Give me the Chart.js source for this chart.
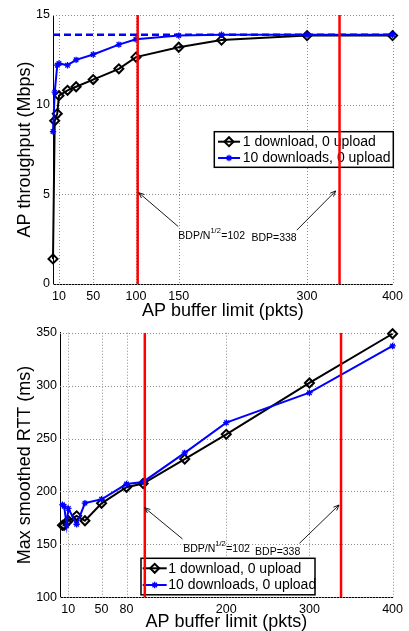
<!DOCTYPE html>
<html>
<head>
<meta charset="utf-8">
<script src="https://cdn.jsdelivr.net/npm/chart.js@4.4.1/dist/chart.umd.min.js"></script>
<style>
  body { margin: 0; background: #fff; }
  canvas { position: absolute; left: 0; }
  #tputChart { top: 0; }
  #rttChart { top: 320px; }
</style>
</head>
<body>
<canvas id="tputChart" width="409" height="320"></canvas>
<canvas id="rttChart" width="409" height="311"></canvas>
<script>
// --- data ---
const bufferSizes = [3, 5, 8, 10, 20, 30, 50, 80, 100, 150, 200, 300, 400];
const seriesLabels = ['1 download, 0 upload', '10 downloads, 0 upload'];

const tputOneDown = [1.4, 9.1, 9.5, 10.5, 10.8, 11.0, 11.4, 12.0, 12.65, 13.2, 13.6, 13.85, 13.85];
const tputTenDown = [8.5, 10.7, 12.2, 12.3, 12.2, 12.5, 12.8, 13.35, 13.65, 13.85, 13.9, 13.9, 13.9];
const tputCeiling = 13.9;

const rttOneDown = [168, 168, 171, 172.3, 177, 172.3, 188.8, 204, 207.5, 230.6, 254, 302.5, 349];
const rttTenDown = [187.5, 186, 168, 184, 169, 189, 192.6, 207, 209, 236.5, 265, 293.3, 337.5];

const bdpSqrtN = 102;
const bdp = 338;

const tputXTicks = [10, 50, 100, 150, 300, 400];
const tputYTicks = [0, 5, 10, 15];
const rttXTicks = [10, 50, 80, 200, 300, 400];
const rttYTicks = [100, 150, 200, 250, 300, 350];

Chart.defaults.font.family = '"Liberation Sans", Arial, Helvetica, sans-serif';
Chart.defaults.color = '#000';

const toPoints = (ys) => bufferSizes.map((x, i) => ({ x: x, y: ys[i] }));

// dotted matlab-style grid at the tick positions
const dottedGrid = {
  id: 'dottedGrid',
  beforeDatasetsDraw(chart) {
    const ctx = chart.ctx, a = chart.chartArea;
    ctx.save();
    ctx.strokeStyle = '#8c8c8c';
    ctx.lineWidth = 1;
    ctx.setLineDash([1, 2]);
    chart.scales.x.ticks.forEach(t => {
      const px = Math.round(chart.scales.x.getPixelForValue(t.value)) + 0.5;
      ctx.beginPath(); ctx.moveTo(px, a.top); ctx.lineTo(px, a.bottom); ctx.stroke();
    });
    chart.scales.y.ticks.forEach(t => {
      const py = Math.round(chart.scales.y.getPixelForValue(t.value)) + 0.5;
      ctx.beginPath(); ctx.moveTo(a.left, py); ctx.lineTo(a.right, py); ctx.stroke();
    });
    ctx.restore();
  }
};

// legend box drawn under the data, like the matlab one
const legendBox = {
  id: 'legendBox',
  beforeDatasetsDraw(chart, args, o) {
    const ctx = chart.ctx;
    ctx.save();
    ctx.fillStyle = '#fff';
    ctx.fillRect(o.x, o.y, o.w, o.h);
    ctx.strokeStyle = '#000';
    ctx.lineWidth = 1.5;
    ctx.strokeRect(o.x, o.y, o.w, o.h);
    ctx.font = '14px "Liberation Sans", Arial, sans-serif';
    ctx.textBaseline = 'middle';
    seriesLabels.forEach((name, i) => {
      const ds = chart.data.datasets.find(d => d.label === name);
      const cy = o.y + o.rowTop + i * o.rowGap;
      const x0 = o.x + o.lineFrom, x1 = o.x + o.lineTo, mx = (x0 + x1) / 2;
      ctx.strokeStyle = ds.borderColor;
      ctx.lineWidth = ds.borderWidth;
      ctx.beginPath(); ctx.moveTo(x0, cy); ctx.lineTo(x1, cy); ctx.stroke();
      ctx.lineWidth = ds.pointBorderWidth;
      ctx.beginPath();
      const r = ds.pointRadius;
      if (ds.pointStyle === 'rectRot') {
        ctx.moveTo(mx - r, cy); ctx.lineTo(mx, cy - r); ctx.lineTo(mx + r, cy); ctx.lineTo(mx, cy + r); ctx.closePath();
      } else {
        ctx.moveTo(mx - r, cy); ctx.lineTo(mx + r, cy);
        ctx.moveTo(mx, cy - r); ctx.lineTo(mx, cy + r);
        ctx.moveTo(mx - r * 0.7, cy - r * 0.7); ctx.lineTo(mx + r * 0.7, cy + r * 0.7);
        ctx.moveTo(mx - r * 0.7, cy + r * 0.7); ctx.lineTo(mx + r * 0.7, cy - r * 0.7);
      }
      ctx.stroke();
      ctx.fillStyle = '#000';
      ctx.fillText(ds.label, o.x + o.textX, cy + 0.5);
    });
    ctx.restore();
  }
};

// arrows + BDP labels, placed in data units
const bdpNotes = {
  id: 'bdpNotes',
  afterDatasetsDraw(chart, args, o) {
    const ctx = chart.ctx;
    const xs = chart.scales.x, ys = chart.scales.y;
    ctx.save();
    ctx.strokeStyle = '#000';
    ctx.lineWidth = 0.9;
    o.arrows.forEach(a => {
      const tx = xs.getPixelForValue(a.tail[0]), ty = ys.getPixelForValue(a.tail[1]);
      const hx = xs.getPixelForValue(a.head[0]), hy = ys.getPixelForValue(a.head[1]);
      const ang = Math.atan2(hy - ty, hx - tx);
      ctx.beginPath();
      ctx.moveTo(tx, ty); ctx.lineTo(hx, hy);
      ctx.moveTo(hx - 6 * Math.cos(ang - 0.4), hy - 6 * Math.sin(ang - 0.4));
      ctx.lineTo(hx, hy);
      ctx.lineTo(hx - 6 * Math.cos(ang + 0.4), hy - 6 * Math.sin(ang + 0.4));
      ctx.stroke();
    });
    ctx.fillStyle = '#000';
    ctx.textBaseline = 'alphabetic';
    o.labels.forEach(l => {
      let px = xs.getPixelForValue(l.x);
      const py = ys.getPixelForValue(l.y);
      l.parts.forEach(([txt, sup]) => {
        ctx.font = (sup ? '7.5px' : '10.5px') + ' "Liberation Sans", Arial, sans-serif';
        ctx.fillText(txt, px, sup ? py - 6 : py);
        px += ctx.measureText(txt).width + (sup ? 0.5 : 0);
      });
    });
    ctx.restore();
  }
};

function makeChart(id, c) {
  // first dataset is painted last (on top): red markers, dashed ceiling, blue, black
  const datasets = [
    { label: 'bdp-sqrt', data: [{ x: bdpSqrtN, y: c.yMin }, { x: bdpSqrtN, y: c.yMax }],
      borderColor: '#ff0000', borderWidth: 2.5, pointRadius: 0 },
    { label: 'bdp', data: [{ x: bdp, y: c.yMin }, { x: bdp, y: c.yMax }],
      borderColor: '#ff0000', borderWidth: 2.5, pointRadius: 0 }
  ];
  if (c.ceiling !== undefined) {
    datasets.push({ label: 'ceiling', data: [{ x: c.xMin, y: c.ceiling }, { x: 400, y: c.ceiling }],
      borderColor: '#0000ff', borderWidth: 2.5, borderDash: [7, 4], pointRadius: 0 });
  }
  datasets.push(
    { label: seriesLabels[1], data: toPoints(c.ten),
      borderColor: '#0000ff', borderWidth: 2, pointStyle: 'star', pointRadius: 3.2,
      pointBorderWidth: 1.3, pointBorderColor: '#0000ff', backgroundColor: '#0000ff', clip: false },
    { label: seriesLabels[0], data: toPoints(c.one),
      borderColor: '#000', borderWidth: 2, pointStyle: 'rectRot', pointRadius: 4.5,
      pointBorderWidth: 2, pointBorderColor: '#000', backgroundColor: 'rgba(255,255,255,0)', clip: false }
  );

  return new Chart(document.getElementById(id), {
    type: 'line',
    data: { datasets: datasets },
    options: {
      responsive: false,
      animation: false,
      devicePixelRatio: 1,
      events: [],
      layout: { padding: c.pad },
      plugins: {
        legend: { display: false },
        tooltip: { enabled: false },
        legendBox: c.box,
        bdpNotes: c.notes
      },
      scales: {
        x: {
          type: 'linear', min: c.xMin, max: 400,
          afterBuildTicks: ax => { ax.ticks = c.xTicks.map(v => ({ value: v })); },
          afterFit: ax => { ax.height = c.xAxisH; },
          grid: { display: false, drawTicks: false },
          border: { display: true, color: '#000', width: 1 },
          ticks: { font: { size: 12.5, lineHeight: 1 }, padding: 6, maxRotation: 0, autoSkip: false },
          title: { display: true, text: 'AP buffer limit (pkts)', font: { size: 18, lineHeight: 1 }, padding: { top: 0, bottom: 0 } }
        },
        y: {
          min: c.yMin, max: c.yMax,
          afterBuildTicks: ax => { ax.ticks = c.yTicks.map(v => ({ value: v })); },
          afterFit: ax => { ax.width = c.yAxisW; },
          grid: { display: false, drawTicks: false },
          border: { display: true, color: '#000', width: 1 },
          ticks: { font: { size: 12.5, lineHeight: 1 }, padding: 3 },
          title: { display: true, text: c.yTitle, font: { size: 18, lineHeight: 1 }, padding: { top: 16, bottom: 0 } }
        }
      }
    },
    plugins: [dottedGrid, legendBox, bdpNotes]
  });
}

makeChart('tputChart', {
  one: tputOneDown, ten: tputTenDown, ceiling: tputCeiling,
  xMin: 3, yMin: 0, yMax: 15, xTicks: tputXTicks, yTicks: tputYTicks,
  yTitle: 'AP throughput (Mbps)',
  pad: { top: 15, right: 12.3, left: 0, bottom: 0 }, yAxisW: 53, xAxisH: 36,
  box: { x: 214.3, y: 131.7, w: 179, h: 35.6, rowTop: 10, rowGap: 16.3, lineFrom: 3.7, lineTo: 25.7, textX: 28.4 },
  notes: {
    arrows: [{ tail: [149.5, 3.2], head: [103.3, 5.09] }, { tail: [288, 3.0], head: [333.5, 5.19] }],
    labels: [
      { x: 149.5, y: 2.5, parts: [['BDP/N', 0], ['1/2', 1], ['=102', 0]] },
      { x: 235, y: 2.4, parts: [['BDP=338', 0]] }
    ]
  }
});

makeChart('rttChart', {
  one: rttOneDown, ten: rttTenDown,
  xMin: 0, yMin: 100, yMax: 350, xTicks: rttXTicks, yTicks: rttYTicks,
  yTitle: 'Max smoothed RTT (ms)',
  pad: { top: 12.7, right: 12.3, left: 0, bottom: 0 }, yAxisW: 60, xAxisH: 33.7,
  box: { x: 141, y: 238.3, w: 174, h: 36.5, rowTop: 10, rowGap: 16.7, lineFrom: 1.7, lineTo: 25.7, textX: 27.3 },
  notes: {
    arrows: [{ tail: [147.4, 155.1], head: [101.8, 184.6] }, { tail: [288, 151], head: [335.6, 187.2] }],
    labels: [
      { x: 148.2, y: 142.8, parts: [['BDP/N', 0], ['1/2', 1], ['=102', 0]] },
      { x: 234.6, y: 140, parts: [['BDP=338', 0]] }
    ]
  }
});
</script>
</body>
</html>
